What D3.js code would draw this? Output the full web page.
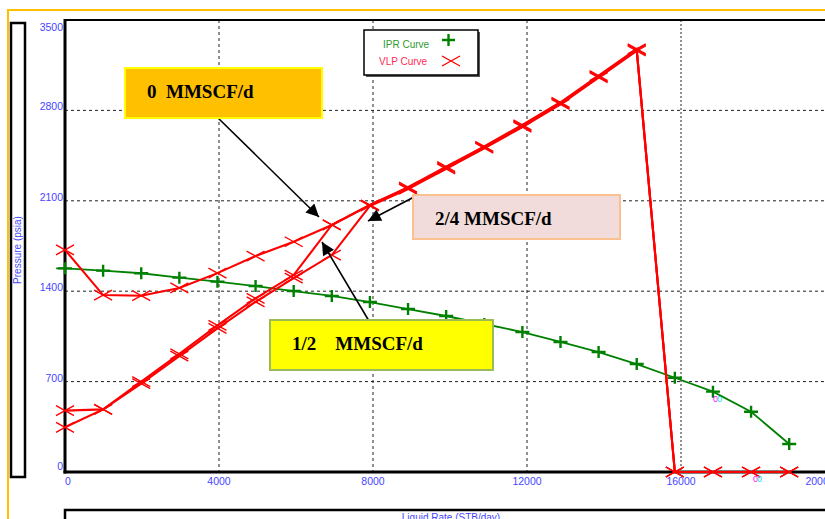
<!DOCTYPE html>
<html>
<head>
<meta charset="utf-8">
<script src="https://cdn.jsdelivr.net/npm/d3@7"></script>
<style>
body { margin: 0; background: #fff; }
svg { display: block; }
</style>
</head>
<body>
<div id="chart"></div>
<script>
// data
const qRate = [0, 990, 1980, 2970, 3960, 4950, 5940, 6930, 7920, 8910, 9900, 10890, 11880, 12870, 13860, 14850, 15840, 16830, 17820, 18810]
const iprP = [1577, 1559, 1539, 1505, 1474, 1440, 1401, 1363, 1316, 1262, 1208, 1146, 1084, 1007, 929, 836, 730, 622, 467, 217]
const vlp0 = [1720, 1370, 1365, 1425, 1540, 1672, 1783, 1913, 2067, 2197, 2356, 2514, 2679, 2855, 3061, 3268, 0, 0, 0, 0]
const vlp12 = [475, 485, 700, 915, 1135, 1345, 1525, 1913, 2067, 2206, 2364, 2522, 2688, 2863, 3070, 3276, 0, 0, 0, 0]
const vlp24 = [346, 485, 685, 898, 1112, 1318, 1502, 1680, 2060, 2190, 2348, 2507, 2671, 2847, 3053, 3260, 0, 0, 0, 0]
const xTicks = [0, 4000, 8000, 12000, 16000, 20000]
const yTicks = [0, 700, 1400, 2100, 2800, 3500]

const width = 825
const height = 519
const svg = d3.select('#chart')
	.append('svg')
	.attr('width', width)
	.attr('height', height)

const x = d3.scaleLinear().domain([0, 20000]).range([65, 835])
const y = d3.scaleLinear().domain([0, 3500]).range([472, 20])

const blue = '#4646ff'

// outer frame
svg.append('path')
	.attr('d', 'M8,519 L8,10 L825,10')
	.attr('fill', 'none')
	.attr('stroke', '#ffc000')
	.attr('stroke-width', 2)

// left label box
svg.append('rect')
	.attr('x', 11).attr('y', 23)
	.attr('width', 14).attr('height', 454)
	.attr('fill', '#fff')
	.attr('stroke', '#000')
	.attr('stroke-width', 2.5)
svg.append('text')
	.attr('transform', 'translate(21,250) rotate(-90)')
	.attr('text-anchor', 'middle')
	.style('font-family', 'Liberation Sans')
	.style('font-size', '10px')
	.attr('fill', blue)
	.text('Pressure  (psia)')

// grid
const grid = svg.append('g')
grid.selectAll('.hg')
	.data(yTicks.filter(d => d > 0 && d < 3500))
	.join('line')
	.attr('x1', x(0)).attr('x2', width)
	.attr('y1', d => y(d)).attr('y2', d => y(d))
	.attr('stroke', '#222')
	.attr('stroke-dasharray', '3,3')
grid.selectAll('.vg')
	.data(xTicks.filter(d => d > 0 && d < 20000))
	.join('line')
	.attr('x1', d => x(d)).attr('x2', d => x(d))
	.attr('y1', y(3500)).attr('y2', y(0))
	.attr('stroke', d => d == 16000 ? '#777' : '#222')
	.attr('stroke-width', d => d == 16000 ? 1.6 : 1)
	.attr('stroke-dasharray', d => d == 16000 ? '2,2' : '3,3')

// axes lines
svg.append('line')
	.attr('x1', x(0)).attr('x2', width)
	.attr('y1', y(3500)).attr('y2', y(3500))
	.attr('stroke', '#000').attr('stroke-width', 2)
svg.append('line')
	.attr('x1', x(0)).attr('x2', x(0))
	.attr('y1', y(3500) - 1).attr('y2', y(0) + 1.5)
	.attr('stroke', '#000').attr('stroke-width', 3)
svg.append('line')
	.attr('x1', x(0) - 1.5).attr('x2', width)
	.attr('y1', y(0)).attr('y2', y(0))
	.attr('stroke', '#000').attr('stroke-width', 3)

// tick labels
svg.selectAll('.ylab')
	.data(yTicks)
	.join('text')
	.attr('x', 63)
	.attr('y', d => d == 3500 ? y(d) + 11 : (d == 0 ? y(d) - 2 : y(d)))
	.attr('text-anchor', 'end')
	.style('font-family', 'Liberation Sans')
	.style('font-size', '10.5px')
	.attr('fill', blue)
	.text(d => d)
svg.selectAll('.xlab')
	.data(xTicks)
	.join('text')
	.attr('x', d => d == 0 ? x(d) + 3 : Math.min(x(d), 820))
	.attr('y', 485)
	.attr('text-anchor', 'middle')
	.style('font-family', 'Liberation Sans')
	.style('font-size', '10.5px')
	.attr('fill', blue)
	.text(d => d)

// bottom title box
svg.append('path')
	.attr('d', `M${x(0)},519 L${x(0)},510 L${width},510`)
	.attr('fill', 'none')
	.attr('stroke', '#000')
	.attr('stroke-width', 2.5)
svg.append('text')
	.attr('x', 451).attr('y', 521)
	.attr('text-anchor', 'middle')
	.style('font-family', 'Liberation Sans')
	.style('font-size', '10px')
	.attr('fill', blue)
	.text('Liquid Rate  (STB/day)')

// curves
const line = d3.line()
	.x(d => x(d[0]))
	.y(d => y(d[1]))

const ipr = qRate.map((q, i) => [q, iprP[i]])
const vlps = [vlp0, vlp12, vlp24].map(s => qRate.map((q, i) => [q, s[i]]))

svg.append('path')
	.datum([[-230, iprP[0]]].concat(ipr))
	.attr('d', line)
	.attr('fill', 'none')
	.attr('stroke', '#008000')
	.attr('stroke-width', 1.8)
svg.append('g')
	.selectAll('path')
	.data(ipr)
	.join('path')
	.attr('d', d => `M${x(d[0]) - 7},${y(d[1])} h14 M${x(d[0])},${y(d[1]) - 6} v12`)
	.attr('stroke', '#008000')
	.attr('stroke-width', 2.4)

vlps.forEach(function(s) {
	svg.append('path')
		.datum(s)
		.attr('d', line)
		.attr('fill', 'none')
		.attr('stroke', '#ff0000')
		.attr('stroke-width', 2.1)
	svg.append('g')
		.selectAll('path')
		.data(s)
		.join('path')
		.attr('d', d => `M${x(d[0]) - 9},${y(d[1]) - 5} L${x(d[0]) + 9},${y(d[1]) + 5} M${x(d[0]) - 9},${y(d[1]) + 5} L${x(d[0]) + 9},${y(d[1]) - 5}`)
		.attr('stroke', '#ff0000')
		.attr('stroke-width', 1.4)
})

// stray zero labels
const zeros = [[713, 402], [753, 482]]
zeros.forEach(function(p) {
	svg.append('text').attr('x', p[0]).attr('y', p[1])
		.style('font-family', 'Liberation Sans').style('font-size', '9px')
		.attr('fill', '#ff00ff').text('0')
	svg.append('text').attr('x', p[0] + 4).attr('y', p[1])
		.style('font-family', 'Liberation Sans').style('font-size', '9px')
		.attr('fill', '#00e0e0').text('0')
})

// legend
const lg = svg.append('g')
lg.append('rect')
	.attr('x', 366).attr('y', 32)
	.attr('width', 114).attr('height', 45)
	.attr('fill', '#555')
lg.append('rect')
	.attr('x', 364).attr('y', 30)
	.attr('width', 114).attr('height', 45)
	.attr('fill', '#fff')
	.attr('stroke', '#000')
	.attr('stroke-width', 1.5)
lg.append('text')
	.attr('x', 383).attr('y', 48)
	.style('font-family', 'Liberation Sans').style('font-size', '10px')
	.attr('fill', '#2f9a2f')
	.text('IPR Curve')
lg.append('text')
	.attr('x', 379).attr('y', 65)
	.style('font-family', 'Liberation Sans').style('font-size', '10px')
	.attr('fill', '#ff2a55')
	.text('VLP Curve')
lg.append('path')
	.attr('d', 'M442,40 h13 M448.5,34 v12')
	.attr('stroke', '#008000').attr('stroke-width', 2.4)
lg.append('path')
	.attr('d', 'M442,56 L460,66 M442,66 L460,56')
	.attr('stroke', '#ff0000').attr('stroke-width', 1.4)

// arrows
const defs = svg.append('defs')
defs.append('marker')
	.attr('id', 'arrow')
	.attr('viewBox', '0 0 10 10')
	.attr('refX', 10).attr('refY', 5)
	.attr('markerWidth', 9).attr('markerHeight', 8)
	.attr('markerUnits', 'strokeWidth')
	.attr('orient', 'auto')
	.append('path')
	.attr('d', 'M0,0 L10,5 L0,10 Z')
	.attr('fill', '#000')

const arrows = [
	[215, 115, 319, 217],
	[414, 197, 368, 221],
	[369, 321, 322, 242]
]
svg.append('g')
	.selectAll('line')
	.data(arrows)
	.join('line')
	.attr('x1', d => d[0]).attr('y1', d => d[1])
	.attr('x2', d => d[2]).attr('y2', d => d[3])
	.attr('stroke', '#000')
	.attr('stroke-width', 1.6)
	.attr('marker-end', 'url(#arrow)')

// annotation boxes
const notes = [
	{ x: 125, y: 68, w: 197, h: 50, fill: '#ffc000', stroke: '#ffff00', text: '0  MMSCF/d', tx: 147, ty: 98 },
	{ x: 413, y: 195, w: 207, h: 44, fill: '#f2dcdb', stroke: '#fac090', text: '2/4 MMSCF/d', tx: 435, ty: 225 },
	{ x: 270, y: 320, w: 223, h: 50, fill: '#ffff00', stroke: '#9bbb59', text: '1/2    MMSCF/d', tx: 292, ty: 350 }
]
const ng = svg.append('g')
	.selectAll('g')
	.data(notes)
	.join('g')
ng.append('rect')
	.attr('x', d => d.x).attr('y', d => d.y)
	.attr('width', d => d.w).attr('height', d => d.h)
	.attr('fill', d => d.fill)
	.attr('stroke', d => d.stroke)
	.attr('stroke-width', 2)
ng.append('text')
	.attr('x', d => d.tx).attr('y', d => d.ty)
	.style('font-family', 'Liberation Serif')
	.style('font-size', '19px')
	.style('font-weight', 'bold')
	.style('white-space', 'pre')
	.attr('xml:space', 'preserve')
	.attr('fill', '#000')
	.text(d => d.text)
</script>
</body>
</html>
